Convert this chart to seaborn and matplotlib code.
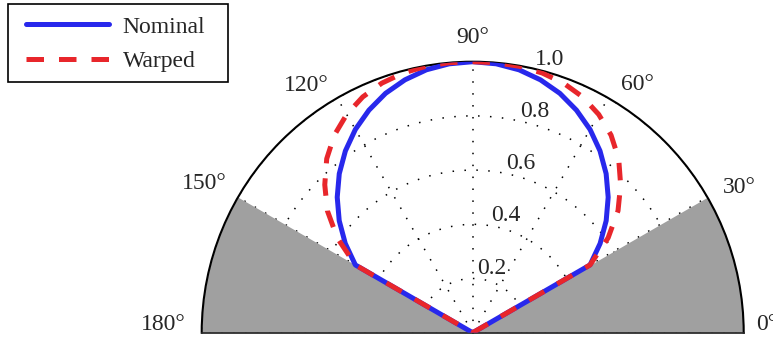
import numpy as np
import pandas as pd
import matplotlib
matplotlib.use("Agg")
import matplotlib.pyplot as plt
from matplotlib.patches import Rectangle
import seaborn as sns

# Beam pattern radius (normalised) versus angle in degrees.
# The pattern is closed to the origin along the 30° and 150° edges.
theta_deg = [30, 30, 35, 40, 45, 50, 55, 60, 65, 70, 75, 80, 85, 90,
             95, 100, 105, 110, 115, 120, 125, 130, 135, 140, 145, 150, 150]
nominal_r = [0.000, 0.500, 0.574, 0.643, 0.707, 0.766, 0.819, 0.866, 0.906, 0.940, 0.966,
             0.985, 0.996, 1.000, 0.996, 0.985, 0.966, 0.940, 0.906, 0.866, 0.819, 0.766,
             0.707, 0.643, 0.574, 0.500, 0.000]
warped_r = [0.000, 0.500, 0.610, 0.700, 0.772, 0.838, 0.890, 0.930, 0.960, 0.980, 0.992,
            0.998, 1.000, 1.000, 1.000, 0.998, 0.992, 0.980, 0.960, 0.930, 0.890, 0.838,
            0.772, 0.700, 0.610, 0.500, 0.000]
series_names = ["Nominal", "Warped"]

# Blocked sectors near the horizon
blocked_sectors = [(0, 30), (150, 180)]

theta_ticks = [0, 30, 60, 90, 120, 150, 180]
theta_labels = [f"{t}°" for t in theta_ticks]
r_ticks = [0.2, 0.4, 0.6, 0.8, 1.0]
r_labels = ["0.2", "0.4", "0.6", "0.8", "1.0"]

sns.set_theme(style="white")
plt.rcParams["font.family"] = ["Liberation Serif", "DejaVu Serif"]

W, H = 773, 341
fig = plt.figure(figsize=(W / 100, H / 100), dpi=100)
fig.patch.set_facecolor("white")

# A half-polar axes keeps a square bounding box, so the wedge sits in its middle band
cx, cy, R = 472.7, 332.7, 271.0
ax = fig.add_axes([(cx - R) / W, (H - cy - 0.5 * R) / H, 2 * R / W, 2 * R / H],
                  projection="polar")
ax.set_thetamin(0)
ax.set_thetamax(180)
ax.set_rlim(0, 1.0)
ax.set_facecolor("white")

df = pd.DataFrame({
    "theta": np.radians(theta_deg * 2),
    "r": nominal_r + warped_r,
    "series": [series_names[0]] * len(theta_deg) + [series_names[1]] * len(theta_deg),
})

sns.lineplot(data=df[df.series == "Nominal"], x="theta", y="r", ax=ax,
             estimator=None, sort=False, color="#2828ec", lw=3.6,
             zorder=3, legend=False)
sns.lineplot(data=df[df.series == "Warped"], x="theta", y="r", ax=ax,
             estimator=None, sort=False, color="#e8262b", lw=3.6,
             zorder=4, legend=False)
ax.lines[-1].set_dashes((3.5, 3.0))
for ln in ax.lines:
    ln.set_solid_joinstyle("round")
    ln.set_dash_joinstyle("round")

for a0, a1 in blocked_sectors:
    th = np.radians(np.linspace(a0, a1, 80))
    ax.fill_between(th, 0, 1.0, color="#a0a0a0", lw=0, zorder=1)

ax.set_axisbelow(True)
ax.set_thetagrids(theta_ticks, [""] * len(theta_ticks))
ax.set_rgrids(r_ticks, [""] * len(r_ticks))
ax.set_rlim(0, 1.0)
ax.grid(True, color="black", linestyle=(0, (1, 6.8)), linewidth=1.1)
ax.set_xlabel("")
ax.set_ylabel("")

ax.spines["polar"].set_linewidth(1.5)
ax.spines["polar"].set_color("black")
for s in ("start", "end", "inner"):
    ax.spines[s].set_visible(False)

# Angle labels outside the rim: (angle of label centre, radius of label centre)
theta_label_pos = [(2.1, 1.087), (29.0, 1.123), (56.8, 1.107), (90.0, 1.098),
                   (123.8, 1.107), (150.5, 1.138), (178.0, 1.141)]
for lab, (a, rr) in zip(theta_labels, theta_label_pos):
    ax.text(np.radians(a), rr, lab, ha="center", va="center_baseline",
            fontsize=17, clip_on=False, zorder=6)

# Radius labels along a ray at about 74.5°
for lab, rv in zip(r_labels, r_ticks):
    ax.text(np.radians(74.5), rv + 0.057, lab, ha="center", va="center_baseline",
            fontsize=17, clip_on=False, zorder=6)

# Legend in the upper-left corner with a square black frame
leg = fig.legend(handles=ax.lines[:2], labels=series_names, loc="upper left",
                 bbox_to_anchor=(26 / W, 1 - 16 / H), frameon=False, fontsize=17,
                 handlelength=3.5, handletextpad=0.6, labelspacing=0.56,
                 borderpad=0, borderaxespad=0)
fig.patches.append(Rectangle((8 / W, 1 - 82 / H), 220 / W, 78 / H,
                             transform=fig.transFigure, fill=False,
                             edgecolor="black", linewidth=1.2, zorder=5))

fig.savefig("out.png", dpi=100, facecolor="white")
